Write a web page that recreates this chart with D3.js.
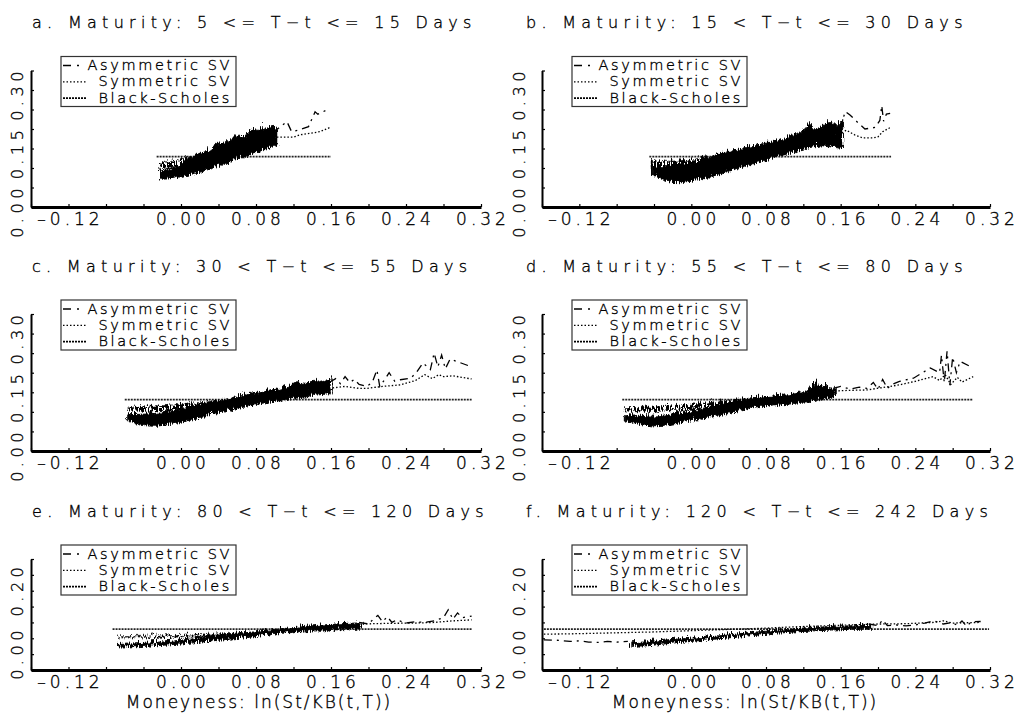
<!DOCTYPE html>
<html>
<head>
<meta charset="utf-8">
<script src="https://cdn.jsdelivr.net/npm/d3@7"></script>
<style>
  body { margin: 0; background: #fff; }
  svg text { font-family: "DejaVu Sans", sans-serif; font-weight: 200; fill: #000; stroke: #000; stroke-width: 0.35; }
</style>
</head>
<body>
<svg id="chart" width="1018" height="726"></svg>
<script>
// ---- data ----
const titles = [
  "a. Maturity: 5 <= T\u2212t <= 15 Days",
  "b. Maturity: 15 < T\u2212t <= 30 Days",
  "c. Maturity: 30 < T\u2212t <= 55 Days",
  "d. Maturity: 55 < T\u2212t <= 80 Days",
  "e. Maturity: 80 < T\u2212t <= 120 Days",
  "f. Maturity: 120 < T\u2212t <= 242 Days"
];
const legendLabels = ["Asymmetric SV", "Symmetric SV", "Black-Scholes"];
const xTitle = "Moneyness: ln(St/KB(t,T))";

const xTicks = [-0.16, -0.12, -0.08, -0.04, 0, 0.04, 0.08, 0.12, 0.16, 0.20, 0.24, 0.28, 0.32];
const xLabelTicks = [-0.12, 0, 0.08, 0.16, 0.24, 0.32];
const yTicks = [0, 0.05, 0.10, 0.15, 0.20, 0.25, 0.30, 0.35];
const yLabelTicksTall = [0, 0.15, 0.30];
const yLabelTicksShort = [0, 0.20];

// Black-Scholes (flat) : level and moneyness range per panel
const bsLevel = [0.129, 0.129, 0.131, 0.131, 0.129, 0.129];
const bsRange = [[-0.026, 0.160], [-0.045, 0.214], [-0.060, 0.310], [-0.074, 0.302], [-0.073, 0.310], [-0.158, 0.319]];

// dense parts: [moneyness, low, high]
const asymBandA = [[-0.025,0.079,0.100],[-0.015,0.080,0.104],[-0.005,0.085,0.110],[0.005,0.090,0.128],[0.015,0.096,0.145],[0.025,0.103,0.150],[0.035,0.111,0.168],[0.045,0.118,0.172],[0.055,0.128,0.190],[0.065,0.136,0.188],[0.075,0.146,0.208],[0.085,0.155,0.205],[0.095,0.162,0.218],[0.100,0.167,0.200]];
const symBandA = [[-0.025,0.106,0.121],[-0.015,0.107,0.124],[-0.005,0.110,0.128],[0.005,0.113,0.132],[0.015,0.118,0.138],[0.025,0.123,0.145],[0.035,0.130,0.152],[0.045,0.137,0.160],[0.055,0.143,0.168],[0.065,0.150,0.175],[0.075,0.156,0.180],[0.085,0.160,0.185],[0.095,0.165,0.185]];
const asymBandB = [[-0.045,0.090,0.112],[-0.035,0.080,0.108],[-0.025,0.071,0.112],[-0.015,0.070,0.110],[-0.005,0.073,0.118],[0.005,0.078,0.122],[0.015,0.083,0.135],[0.025,0.090,0.140],[0.035,0.098,0.150],[0.045,0.105,0.152],[0.055,0.112,0.160],[0.065,0.119,0.163],[0.075,0.126,0.170],[0.085,0.133,0.175],[0.095,0.140,0.180],[0.105,0.147,0.190],[0.115,0.155,0.198],[0.123,0.160,0.222],[0.130,0.163,0.205],[0.137,0.165,0.212],[0.145,0.162,0.228],[0.152,0.160,0.215],[0.159,0.158,0.232]];
const symBandB = [[-0.045,0.108,0.122],[-0.035,0.106,0.124],[-0.025,0.105,0.125],[-0.015,0.104,0.126],[-0.005,0.106,0.128],[0.005,0.108,0.132],[0.015,0.112,0.137],[0.025,0.117,0.142],[0.035,0.122,0.148],[0.045,0.127,0.153],[0.055,0.132,0.158],[0.065,0.137,0.163],[0.075,0.142,0.168],[0.085,0.147,0.173],[0.095,0.152,0.178],[0.105,0.156,0.183],[0.115,0.160,0.186],[0.125,0.163,0.190],[0.135,0.165,0.192],[0.145,0.167,0.190],[0.155,0.168,0.190]];
const asymBandC = [[-0.060,0.084,0.100],[-0.050,0.078,0.101],[-0.040,0.072,0.102],[-0.030,0.071,0.104],[-0.020,0.074,0.106],[-0.010,0.078,0.110],[0.000,0.083,0.114],[0.010,0.088,0.120],[0.020,0.094,0.126],[0.030,0.100,0.132],[0.040,0.106,0.138],[0.050,0.111,0.142],[0.060,0.117,0.148],[0.070,0.123,0.152],[0.080,0.128,0.156],[0.090,0.132,0.160],[0.100,0.136,0.164],[0.110,0.140,0.170],[0.120,0.143,0.182],[0.130,0.146,0.178],[0.140,0.150,0.188],[0.150,0.153,0.185],[0.158,0.155,0.195]];
const symBandC = [[-0.060,0.110,0.118],[-0.045,0.109,0.121],[-0.030,0.110,0.123],[-0.015,0.112,0.125],[0.000,0.114,0.127],[0.015,0.117,0.131],[0.030,0.121,0.135],[0.045,0.126,0.140],[0.060,0.131,0.145],[0.075,0.136,0.150],[0.090,0.141,0.156],[0.105,0.146,0.161],[0.120,0.150,0.166],[0.135,0.153,0.170],[0.150,0.156,0.172],[0.158,0.157,0.172]];
const asymBandD = [[-0.075,0.084,0.098],[-0.065,0.078,0.097],[-0.055,0.074,0.096],[-0.045,0.072,0.094],[-0.035,0.073,0.096],[-0.025,0.076,0.099],[-0.015,0.080,0.103],[-0.005,0.084,0.107],[0.005,0.088,0.112],[0.015,0.092,0.118],[0.025,0.097,0.124],[0.035,0.102,0.130],[0.045,0.108,0.135],[0.055,0.113,0.140],[0.065,0.117,0.144],[0.075,0.120,0.146],[0.085,0.123,0.148],[0.095,0.126,0.150],[0.105,0.129,0.152],[0.115,0.132,0.156],[0.125,0.135,0.165],[0.130,0.137,0.186],[0.135,0.140,0.168],[0.140,0.142,0.178],[0.145,0.144,0.166],[0.152,0.148,0.166]];
const symBandD = [[-0.075,0.110,0.118],[-0.060,0.108,0.119],[-0.045,0.108,0.120],[-0.030,0.110,0.122],[-0.015,0.112,0.125],[0.000,0.115,0.128],[0.015,0.118,0.131],[0.030,0.122,0.136],[0.045,0.126,0.140],[0.060,0.129,0.143],[0.075,0.132,0.146],[0.090,0.135,0.149],[0.105,0.138,0.152],[0.120,0.141,0.155],[0.135,0.144,0.158],[0.150,0.147,0.160]];
const asymBandE = [[-0.070,0.082,0.090],[-0.050,0.083,0.092],[-0.030,0.086,0.096],[-0.010,0.090,0.101],[0.010,0.095,0.108],[0.030,0.101,0.115],[0.050,0.107,0.122],[0.070,0.113,0.128],[0.090,0.120,0.135],[0.110,0.127,0.141],[0.130,0.133,0.147],[0.150,0.138,0.152],[0.170,0.142,0.156],[0.190,0.145,0.158]];
const symBandE = [[-0.070,0.111,0.114],[-0.040,0.111,0.116],[-0.010,0.112,0.118],[0.020,0.114,0.121],[0.050,0.117,0.125],[0.080,0.121,0.129],[0.110,0.126,0.134],[0.140,0.131,0.139],[0.170,0.136,0.144],[0.190,0.139,0.146]];
const asymBandF = [[-0.068,0.084,0.095],[-0.050,0.086,0.098],[-0.030,0.092,0.104],[-0.010,0.098,0.108],[0.010,0.103,0.112],[0.030,0.109,0.118],[0.050,0.114,0.124],[0.070,0.120,0.130],[0.090,0.126,0.135],[0.110,0.130,0.140],[0.130,0.133,0.144],[0.150,0.136,0.147],[0.170,0.138,0.149],[0.190,0.138,0.150]];
const symBandF = [];

// sparse parts: [moneyness, value]
const asymTailA = [[0.098,0.190],[0.106,0.206],[0.113,0.219],[0.118,0.193],[0.125,0.197],[0.136,0.206],[0.143,0.244],[0.146,0.238],[0.154,0.247],[0.159,0.249]];
const symTailA = [[0.095,0.175],[0.102,0.179],[0.120,0.179],[0.127,0.185],[0.138,0.189],[0.148,0.193],[0.159,0.204]];
const asymTailB = [[0.159,0.200],[0.165,0.245],[0.170,0.236],[0.179,0.215],[0.186,0.200],[0.197,0.204],[0.202,0.222],[0.204,0.260],[0.206,0.220],[0.209,0.238],[0.213,0.240]];
const symTailB = [[0.155,0.180],[0.166,0.197],[0.175,0.185],[0.184,0.177],[0.195,0.177],[0.200,0.180],[0.205,0.193],[0.214,0.205]];
const asymTailC = [[0.158,0.175],[0.165,0.185],[0.170,0.172],[0.175,0.190],[0.180,0.175],[0.185,0.183],[0.190,0.170],[0.198,0.165],[0.204,0.175],[0.209,0.207],[0.212,0.165],[0.218,0.185],[0.222,0.200],[0.228,0.178],[0.234,0.182],[0.245,0.186],[0.251,0.200],[0.258,0.225],[0.266,0.208],[0.270,0.250],[0.274,0.215],[0.278,0.245],[0.282,0.210],[0.287,0.235],[0.310,0.215]];
const symTailC = [[0.158,0.160],[0.175,0.165],[0.190,0.160],[0.198,0.160],[0.215,0.165],[0.234,0.169],[0.250,0.180],[0.260,0.195],[0.268,0.185],[0.275,0.195],[0.280,0.190],[0.290,0.192],[0.310,0.184]];
const asymTailD = [[0.152,0.160],[0.160,0.165],[0.170,0.158],[0.180,0.163],[0.188,0.160],[0.195,0.175],[0.200,0.158],[0.205,0.183],[0.210,0.160],[0.215,0.170],[0.223,0.178],[0.238,0.186],[0.256,0.212],[0.266,0.200],[0.268,0.245],[0.271,0.175],[0.274,0.255],[0.277,0.168],[0.280,0.240],[0.284,0.200],[0.288,0.229],[0.302,0.212]];
const symTailD = [[0.150,0.153],[0.170,0.155],[0.188,0.156],[0.205,0.162],[0.223,0.169],[0.240,0.178],[0.259,0.190],[0.266,0.180],[0.272,0.195],[0.278,0.170],[0.285,0.188],[0.290,0.176],[0.302,0.190]];
const asymTailE = [[0.190,0.150],[0.200,0.145],[0.205,0.160],[0.210,0.172],[0.215,0.152],[0.220,0.168],[0.225,0.150],[0.230,0.158],[0.240,0.148],[0.250,0.152],[0.260,0.150],[0.270,0.155],[0.280,0.165],[0.285,0.190],[0.290,0.160],[0.295,0.180],[0.300,0.165],[0.310,0.170]];
const symTailE = [[0.190,0.145],[0.220,0.147],[0.250,0.148],[0.270,0.150],[0.290,0.155],[0.310,0.158]];
const asymHeadF = [[-0.158,0.095],[-0.145,0.094],[-0.130,0.090],[-0.120,0.092],[-0.110,0.088],[-0.100,0.087],[-0.090,0.090],[-0.080,0.088],[-0.068,0.090]];
const asymTailF = [[0.190,0.145],[0.200,0.140],[0.205,0.158],[0.210,0.140],[0.220,0.142],[0.230,0.139],[0.240,0.142],[0.250,0.148],[0.260,0.155],[0.265,0.150],[0.270,0.145],[0.280,0.150],[0.285,0.140],[0.290,0.155],[0.295,0.138],[0.300,0.152],[0.310,0.153]];
const symLineF = [[-0.158,0.113],[-0.130,0.114],[-0.100,0.116],[-0.070,0.118],[-0.040,0.120],[-0.010,0.123],[0.020,0.126],[0.050,0.129],[0.080,0.132],[0.110,0.136],[0.140,0.139],[0.170,0.142],[0.200,0.145],[0.230,0.146],[0.260,0.150],[0.270,0.155],[0.280,0.148],[0.310,0.150]];

const asymBands = [asymBandA, asymBandB, asymBandC, asymBandD, asymBandE, asymBandF];
const symBands = [symBandA, symBandB, symBandC, symBandD, symBandE, symBandF];
const asymLines = [[asymTailA], [asymTailB], [asymTailC], [asymTailD], [asymTailE], [asymHeadF, asymTailF]];
const symLines = [[symTailA], [symTailB], [symTailC], [symTailD], [symTailE], [symLineF]];

// ---- layout ----
const colAxisX = [[31, 481], [542, 990]];
const colTitleX = [32, 526];
const colXTitleX = [259, 745];
const colYLabelX = [17, 519];
const rowAxisY = [[207, 70.5], [451, 314], [670, 559]];
const rowLabelShift = [4, 4, -17];

class PanelChart {

  constructor( config, data ) {
    this.config = {
      parent: config.parent,
      index: config.index,
      col: config.index % 2,
      row: Math.floor(config.index / 2)
    };
    this.data = data;
    this.init();
  }

  init() {
    let self = this;
    let c = self.config;

    self.chart = c.parent.append('g');

    self.xscale = d3.scaleLinear()
      .domain([-0.16, 0.32])
      .range(colAxisX[c.col]);

    self.yscale = d3.scaleLinear()
      .domain([0, 0.35])
      .range(rowAxisY[c.row]);

    self.line = d3.line()
      .x(d => self.xscale(d[0]))
      .y(d => self.yscale(d[1]));

    self.area = d3.area()
      .x(d => self.xscale(d[0]))
      .y0(d => self.yscale(d[1]))
      .y1(d => self.yscale(d[2]));
  }

  render() {
    let self = this;
    let c = self.config;
    let d = self.data;
    let base = rowAxisY[c.row][0];
    let top = rowAxisY[c.row][1];
    let fmt = v => d3.format('.2f')(v).replace('\u2212', '\u2013');

    // title
    self.chart.append('text')
      .attr('x', colTitleX[c.col])
      .attr('y', top - 42.5)
      .attr('font-size', 16)
      .attr('letter-spacing', 5.3)
      .text(d.title);

    // black-scholes
    self.chart.append('path')
      .datum([[d.bsRange[0], d.bs], [d.bsRange[1], d.bs]])
      .attr('d', self.line)
      .attr('fill', 'none')
      .attr('stroke', '#222')
      .attr('stroke-width', 1.8)
      .attr('stroke-dasharray', '2,1');

    // dense clouds (many crossing quotes), roughened to look like the scribble
    let cloud = self.chart.append('g').attr('filter', 'url(#rough)');
    if (d.symBand.length) {
      cloud.append('path')
        .datum(d.symBand)
        .attr('d', self.area)
        .attr('fill', 'url(#hatch)')
        .attr('stroke', '#000')
        .attr('stroke-width', 1)
        .attr('stroke-dasharray', '1.5,1.5');
    }
    cloud.append('path')
      .datum(d.asymBand)
      .attr('d', self.area)
      .attr('fill', '#000')
      .attr('stroke', '#000')
      .attr('stroke-width', 1);

    // sparse parts
    d.symLines.forEach(pts => {
      self.chart.append('path')
        .datum(pts)
        .attr('d', self.line)
        .attr('fill', 'none')
        .attr('stroke', '#000')
        .attr('stroke-width', 1.3)
        .attr('stroke-dasharray', '1.5,2');
    });
    d.asymLines.forEach(pts => {
      self.chart.append('path')
        .datum(pts)
        .attr('d', self.line)
        .attr('fill', 'none')
        .attr('stroke', '#000')
        .attr('stroke-width', 1.3)
        .attr('stroke-dasharray', '8,5,2,5');
    });

    // axes
    let xaxis = d3.axisBottom(self.xscale)
      .tickValues(xTicks)
      .tickSizeInner(-3)
      .tickSizeOuter(0)
      .tickFormat('');
    let xg = self.chart.append('g')
      .attr('transform', `translate(0,${base})`)
      .call(xaxis);
    xg.select('.domain').attr('stroke-width', 3);
    xg.selectAll('.tick line').attr('stroke-width', 1.2);

    let yaxis = d3.axisLeft(self.yscale)
      .tickValues(yTicks)
      .tickSizeInner(-3)
      .tickSizeOuter(0)
      .tickFormat('');
    let yg = self.chart.append('g')
      .attr('transform', `translate(${colAxisX[c.col][0]},0)`)
      .call(yaxis);
    yg.select('.domain').attr('stroke-width', 2);
    yg.selectAll('.tick line').attr('stroke-width', 1.2);

    // tick labels
    self.chart.selectAll('.xlab')
      .data(xLabelTicks)
      .enter()
      .append('text')
      .attr('class', 'xlab')
      .attr('x', v => self.xscale(v) + 2)
      .attr('y', base + 18)
      .attr('text-anchor', 'middle')
      .attr('font-size', 17)
      .attr('letter-spacing', 4)
      .text(v => fmt(v));

    self.chart.selectAll('.ylab')
      .data(d.yLabels)
      .enter()
      .append('text')
      .attr('class', 'ylab')
      .attr('transform', v => `translate(${colYLabelX[c.col]},${self.yscale(v) + rowLabelShift[c.row]}) rotate(-90)`)
      .attr('dy', '0.36em')
      .attr('text-anchor', 'middle')
      .attr('font-size', 16)
      .attr('letter-spacing', 4.5)
      .text(v => fmt(v));

    if (c.row === 2) {
      self.chart.append('text')
        .attr('x', colXTitleX[c.col])
        .attr('y', base + 38)
        .attr('text-anchor', 'middle')
        .attr('font-size', 17)
        .attr('letter-spacing', 2)
        .text(xTitle);
    }

    // legend
    let lx = colAxisX[c.col][0] + 30;
    let ly = top - 14;
    let lg = self.chart.append('g').attr('transform', `translate(${lx},${ly})`);
    lg.append('rect')
      .attr('width', 175)
      .attr('height', 50)
      .attr('fill', '#fff')
      .attr('stroke', '#333')
      .attr('stroke-width', 1.2);
    let dashes = ['8,6,2,20', '1.5,2', '2,1'];
    let widths = [1.3, 1.3, 1.8];
    legendLabels.forEach((lab, i) => {
      lg.append('line')
        .attr('x1', 2).attr('x2', 25)
        .attr('y1', 9 + i * 16.3).attr('y2', 9 + i * 16.3)
        .attr('stroke', '#000')
        .attr('stroke-width', widths[i])
        .attr('stroke-dasharray', dashes[i]);
      lg.append('text')
        .attr('x', 171)
        .attr('y', 13.5 + i * 16.3)
        .attr('text-anchor', 'end')
        .attr('font-size', 14.5)
        .attr('letter-spacing', 2.6)
        .text(lab);
    });
  }
}

let svg = d3.select('#chart');

// texture definitions
let defs = svg.append('defs');
let hatch = defs.append('pattern')
  .attr('id', 'hatch')
  .attr('patternUnits', 'userSpaceOnUse')
  .attr('width', 3)
  .attr('height', 3);
hatch.append('rect').attr('width', 2).attr('height', 3).attr('fill', '#000');
let rough = defs.append('filter')
  .attr('id', 'rough')
  .attr('x', '-5%').attr('y', '-40%')
  .attr('width', '110%').attr('height', '180%');
rough.append('feTurbulence')
  .attr('type', 'turbulence')
  .attr('baseFrequency', '0.55 0.04')
  .attr('numOctaves', 1)
  .attr('seed', 4)
  .attr('result', 'noise');
rough.append('feDisplacementMap')
  .attr('in', 'SourceGraphic')
  .attr('in2', 'noise')
  .attr('scale', 8)
  .attr('xChannelSelector', 'B')
  .attr('yChannelSelector', 'R');

titles.forEach((t, i) => {
  let panel = new PanelChart({ parent: svg, index: i }, {
    title: t,
    bs: bsLevel[i],
    bsRange: bsRange[i],
    asymBand: asymBands[i],
    symBand: symBands[i],
    asymLines: asymLines[i],
    symLines: symLines[i],
    yLabels: i < 4 ? yLabelTicksTall : yLabelTicksShort
  });
  panel.render();
});
</script>
</body>
</html>
